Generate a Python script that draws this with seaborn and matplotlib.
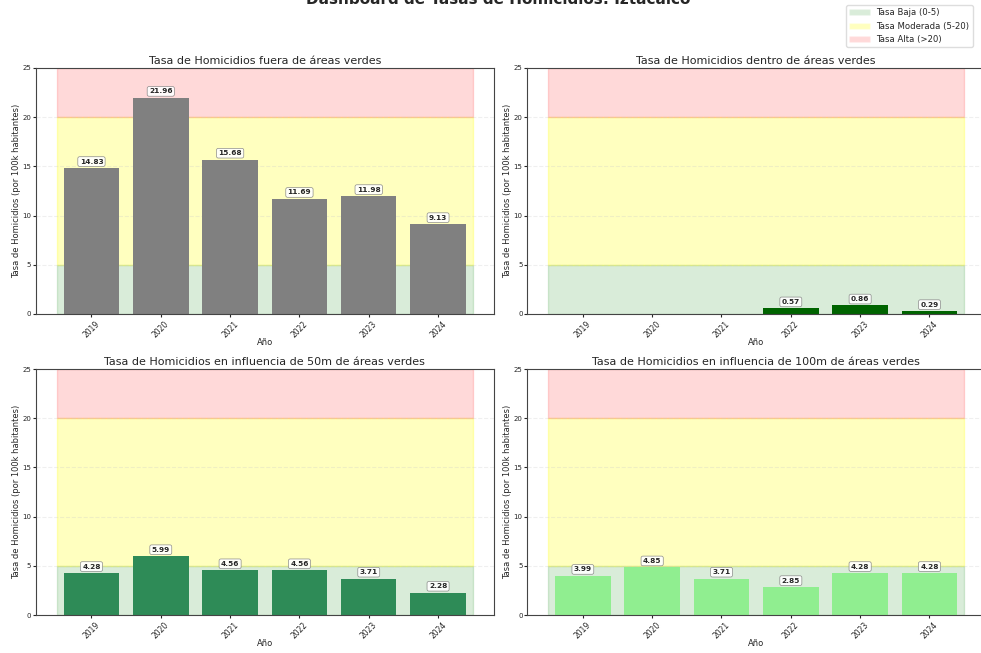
import numpy as np
import pandas as pd
import matplotlib
matplotlib.use('Agg')
import matplotlib.pyplot as plt
import seaborn as sns
from matplotlib.patches import Patch

# Datos de tasas por año (por 100k habitantes)
anios = ['2019', '2020', '2021', '2022', '2023', '2024']
tasa_fuera = [14.83, 21.96, 15.68, 11.69, 11.98, 9.13]
tasa_dentro = [0.0, 0.0, 0.0, 0.57, 0.86, 0.29]
tasa_50m = [4.28, 5.99, 4.56, 4.56, 3.71, 2.28]
tasa_100m = [3.99, 4.85, 3.71, 2.85, 4.28, 4.28]

titulos = ['Tasa de Homicidios fuera de áreas verdes',
           'Tasa de Homicidios dentro de áreas verdes',
           'Tasa de Homicidios en influencia de 50m de áreas verdes',
           'Tasa de Homicidios en influencia de 100m de áreas verdes']
series = [tasa_fuera, tasa_dentro, tasa_50m, tasa_100m]
colores = ['gray', 'darkgreen', 'seagreen', 'lightgreen']

sns.set_style('white')
plt.rcParams['font.family'] = ['DejaVu Sans']

fig, axes = plt.subplots(2, 2, figsize=(9.81, 6.53), dpi=100)
fig.subplots_adjust(left=0.0367, right=1.004, top=0.896, bottom=0.058,
                    hspace=0.224, wspace=0.074)

for ax, titulo, valores, color in zip(axes.flat, titulos, series, colores):
    df = pd.DataFrame({'Año': anios, 'Tasa': valores})
    # Bandas de referencia
    ax.fill_between([-0.5, 5.5], 0, 5, color='green', alpha=0.15, zorder=0)
    ax.fill_between([-0.5, 5.5], 5, 20, color='yellow', alpha=0.25, zorder=0)
    ax.fill_between([-0.5, 5.5], 20, 25, color='red', alpha=0.15, zorder=0)
    sns.barplot(data=df, x='Año', y='Tasa', color=color, saturation=1,
                edgecolor='none', linewidth=0, ax=ax, zorder=2)
    for i, v in enumerate(valores):
        if v > 0:
            ax.text(i, v + 0.35, f'{v:.2f}', ha='center', va='bottom',
                    fontsize=5.3, fontweight='bold', zorder=4,
                    bbox=dict(boxstyle='round,pad=0.25', facecolor='white',
                              edgecolor='gray', alpha=0.9, linewidth=0.5))
    ax.set_xlim(-0.8, 5.8)
    ax.set_ylim(0, 25)
    ax.set_yticks([0, 5, 10, 15, 20, 25])
    ax.yaxis.grid(True, linestyle='--', alpha=0.3)
    ax.set_axisbelow(True)
    ax.set_title(titulo, fontsize=8, pad=3)
    ax.set_xlabel('Año', fontsize=6, labelpad=-1)
    ax.set_ylabel('Tasa de Homicidios (por 100k habitantes)', fontsize=6, labelpad=1)
    ax.tick_params(axis='x', rotation=45, labelsize=5.5, length=2.5, pad=1.5,
                   bottom=True)
    ax.tick_params(axis='y', labelsize=5, length=2.5, pad=1, left=True)
    for s in ax.spines.values():
        s.set_color('#444444')
        s.set_linewidth(0.8)

leyenda = [Patch(facecolor='green', alpha=0.15, label='Tasa Baja (0-5)'),
           Patch(facecolor='yellow', alpha=0.25, label='Tasa Moderada (5-20)'),
           Patch(facecolor='red', alpha=0.15, label='Tasa Alta (>20)')]
fig.legend(handles=leyenda, loc='upper right', bbox_to_anchor=(0.996, 0.999),
           fontsize=6.1, framealpha=1, handlelength=2.4, edgecolor='#dddddd')

fig.suptitle('Dashboard de Tasas de Homicidios: Iztacalco', fontsize=11,
             fontweight='bold', x=0.508, y=1.012)

plt.savefig('out.png', dpi=100)
